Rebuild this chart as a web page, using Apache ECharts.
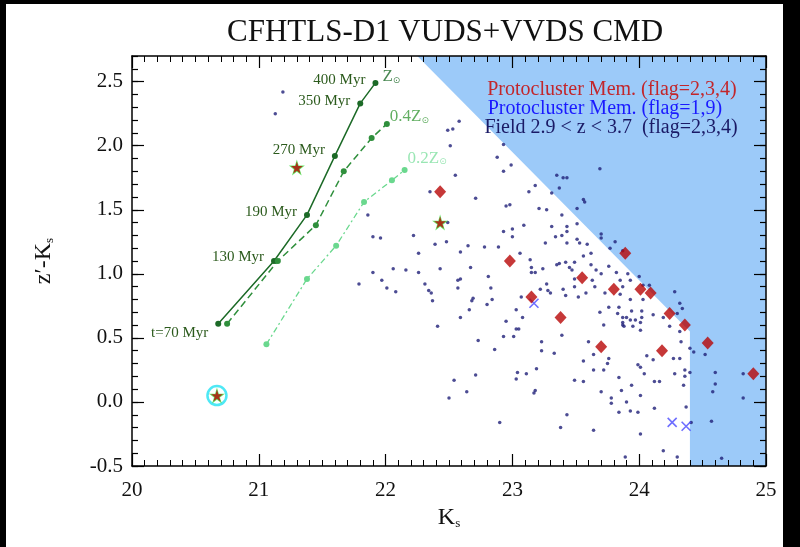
<!DOCTYPE html>
<html>
<head>
<meta charset="utf-8">
<script src="https://cdn.jsdelivr.net/npm/echarts@6/dist/echarts.min.js"></script>
<style>
  html, body { margin: 0; padding: 0; background: #fff; }
  #chart { width: 800px; height: 547px; }
</style>
</head>
<body>
<div id="chart"></div>
<script>
// colour-magnitude data
const fieldPts = [
  [22.58,2.19],[22.49,2.12],[22.53,2.13],[22.51,2.00],[22.93,2.01],[22.88,1.91],[22.99,1.85],[22.93,1.80],
  [22.55,1.77],[23.69,1.82],[23.35,1.77],[23.40,1.75],[23.43,1.75],[23.37,1.67],[23.18,1.69],[23.13,1.64],
  [23.31,1.63],[22.71,1.59],[22.95,1.53],[22.98,1.54],[23.56,1.58],[23.57,1.56],[23.21,1.51],[23.27,1.50],
  [23.51,1.51],[23.39,1.46],[22.49,1.40],[23.51,1.39],[23.43,1.37],[23.09,1.38],[23.00,1.35],[23.31,1.37],
  [21.19,2.42],[21.13,2.25],[21.86,1.46],[22.35,1.64],
  [21.90,1.29],[21.96,1.28],[22.22,1.30],[22.26,1.16],[21.90,1.01],[21.97,0.95],[22.01,0.89],[22.08,0.86],
  [22.06,1.04],[22.16,1.03],[22.26,1.01],[21.79,0.92],
  [22.39,1.23],[22.48,1.25],[22.65,1.22],[22.78,1.21],[22.89,1.21],[23.00,1.29],[22.93,1.33],[23.06,1.16],
  [23.26,1.24],[23.34,1.29],[23.39,1.30],[23.43,1.33],[23.51,1.27],[23.43,1.24],[23.53,1.24],[23.59,1.23],
  [23.62,1.16],[23.70,1.31],[23.70,1.28],[23.77,1.20],[23.81,1.25],[23.87,1.18],[22.59,1.17],[22.67,1.05],
  [22.43,1.04],[22.31,0.92],[22.34,0.87],[22.36,0.85],[22.37,0.79],[22.57,0.95],[22.59,0.96],[22.57,0.89],
  [22.81,0.98],[22.83,0.89],[22.69,0.81],[22.68,0.79],[22.66,0.72],[22.80,0.76],[22.84,0.80],[22.95,0.63],
  [23.03,0.72],[23.03,0.57],[23.05,0.57],[23.08,0.66],[23.07,0.82],[22.93,0.51],[23.01,0.51],[23.14,1.11],
  [23.15,1.05],[23.15,1.01],[23.18,1.01],[23.24,1.04],[23.27,0.92],[23.28,0.87],[23.30,0.85],[23.22,0.88],
  [23.35,1.07],[23.37,1.08],[23.42,1.09],[23.45,1.05],[23.49,1.09],[23.47,1.03],[23.49,0.96],[23.56,1.14],
  [23.62,1.07],[23.66,1.03],[23.70,1.00],[23.65,0.90],[23.58,0.85],[23.52,0.82],[23.42,0.83],[23.40,0.88],
  [23.49,0.90],[23.63,0.95],[23.73,0.85],[23.76,1.06],[23.82,1.01],[23.85,0.95],[23.87,0.90],[23.91,1.00],
  [23.93,0.95],[24.00,0.98],[24.03,0.91],[24.08,0.91],[24.03,0.80],[23.93,0.80],[23.85,0.84],[23.69,0.70],
  [23.72,0.60],[23.76,0.74],[23.84,0.74],[23.83,0.69],[23.87,0.60],[23.88,0.59],[23.87,0.62],[23.87,0.66],
  [23.90,0.66],[23.94,0.71],[23.93,0.64],[24.02,0.71],[23.97,0.64],[23.95,0.59],[24.01,0.56],[24.02,0.66],
  [24.01,0.62],[24.11,0.68],[24.19,0.66],[24.24,0.59],[24.28,0.86],[24.32,0.77],[24.34,0.73],[24.30,0.69],
  [24.32,0.55],[24.33,0.47],[24.27,0.34],[24.32,0.34],[24.36,0.25],[24.40,0.42],[24.43,0.39],[24.40,0.23],
  [24.52,0.37],[24.60,0.23],[24.60,0.14],[24.58,0.08],[24.82,0.22],[24.82,0.03],[24.57,-0.15],[24.41,-0.16],
  [24.36,0.20],[24.35,0.13],[24.37,-0.04],[24.28,0.22],[24.16,0.16],[24.12,0.16],[24.06,0.36],[24.11,0.33],
  [24.04,0.22],[23.99,0.29],[24.01,0.27],[23.94,0.13],[23.86,0.09],[23.84,0.19],[24.01,0.05],[23.93,-0.07],
  [23.90,0.00],[23.84,-0.08],[23.78,0.03],[23.78,-0.01],[23.70,0.08],[23.76,0.34],[23.75,0.30],[23.72,0.25],
  [23.64,0.25],[23.56,0.32],[23.56,0.16],[23.49,0.17],[23.64,0.37],[23.60,0.47],[23.39,0.52],[23.33,0.38],
  [23.23,0.47],[23.23,0.40],[23.19,0.26],[23.18,0.09],[23.17,0.07],[23.11,0.22],[23.04,0.23],[23.03,0.18],
  [22.90,-0.16],[22.86,0.41],[22.73,0.48],[22.71,0.21],[22.64,0.08],[22.54,0.17],[22.50,0.03],[22.41,0.59],
  [22.59,0.66],[23.43,-0.10],[23.38,-0.20],[23.64,-0.22],[24.01,-0.25],[24.19,-0.38],[23.89,-0.43],[24.30,-0.43],
  [24.65,-0.44],[24.12,-0.05],[23.99,-0.08]
];
const memberPts = [
  [22.43,1.64],[23.89,1.16],[22.98,1.10],[23.55,0.97],[23.80,0.88],[23.15,0.82],[24.01,0.88],[24.09,0.85],
  [23.38,0.66],[24.24,0.69],[24.36,0.60],[24.54,0.46],[23.70,0.43],[24.18,0.40],[24.90,0.22]
];
const starPts = [[21.30,1.83],[22.43,1.40],[20.67,0.05]];
const ringPts = [[20.67,0.05]];
const lowFlagPts = [[23.17,0.77],[24.26,-0.16],[24.37,-0.19]];

// Bruzual-Charlot style tracks
const solarK = [20.68, 21.12, 21.38, 21.60, 21.80, 21.92];
const solarC = [0.61, 1.10, 1.46, 1.92, 2.33, 2.49];
const ageLabels = ["t=70 Myr", "130 Myr", "190 Myr", "270 Myr", "350 Myr", "400 Myr"];
const ageLabelDy = [9, -4, -3, -6, -2, -3];
const z04K = [20.75, 21.15, 21.45, 21.67, 21.89, 22.01];
const z04C = [0.61, 1.10, 1.38, 1.80, 2.06, 2.17];
const z02K = [21.06, 21.38, 21.61, 21.83, 22.05, 22.15];
const z02C = [0.45, 0.96, 1.22, 1.56, 1.73, 1.81];
const metalNames = ["", "0.4", "0.2"];

// selection limits: z' cut (z'-Ks = zCut - Ks) and Ks cut
const zCut = 24.95;
const kLimit = 24.4;
const xMin = 20, xMax = 25, yMin = -0.5, yMax = 2.7;

const serif = "Liberation Serif";
const chart = echarts.init(document.getElementById("chart"));

function pairs(ks, cs) {
  return ks.map((k, i) => [k, cs[i]]);
}

const starPath = "path://M50,0 L61,35 L98,35 L68,57 L79,91 L50,70 L21,91 L32,57 L2,35 L39,35 Z";
const crossPath = "path://M0,0 L10,10 M10,0 L0,10";

const majorX = (pos, labels) => ({
  type: "value", min: xMin, max: xMax, interval: 1, position: pos,
  axisLine: { onZero: false, lineStyle: { color: "#000", width: 1.5 } },
  axisTick: { inside: true, length: 12, lineStyle: { color: "#000", width: 1.2 } },
  minorTick: { show: true, splitNumber: 10, length: 6, lineStyle: { color: "#000", width: 1 } },
  splitLine: { show: false },
  axisLabel: { show: labels, margin: 14, fontFamily: serif, fontSize: 21, color: "#111" },
});
const yAx = (pos, interval, len, labels) => ({
  type: "value", min: yMin, max: yMax, interval: interval, position: pos,
  axisLine: { show: interval === 0.5, onZero: false, lineStyle: { color: "#000", width: 1.5 } },
  axisTick: { inside: true, length: len, lineStyle: { color: "#000", width: 1.2 } },
  splitLine: { show: false },
  axisLabel: {
    show: labels, margin: 9, showMaxLabel: false, fontFamily: serif, fontSize: 21, color: "#111",
    formatter: (v) => v.toFixed(1),
  },
});

const xBottom = majorX("bottom", true);
xBottom.name = "{k|K}{s|s}";
xBottom.nameLocation = "middle";
xBottom.nameGap = 40;
xBottom.nameTextStyle = {
  rich: {
    k: { fontFamily: serif, fontSize: 24, color: "#111" },
    s: { fontFamily: serif, fontSize: 13, color: "#111", verticalAlign: "bottom" },
  },
};
const yLeft = yAx("left", 0.5, 12, true);
yLeft.name = "{k|z\u2032-K}{s|s}";
yLeft.nameLocation = "middle";
yLeft.nameGap = 76;
yLeft.nameRotate = 90;
yLeft.nameTextStyle = {
  rich: {
    k: { fontFamily: serif, fontSize: 24, color: "#111" },
    s: { fontFamily: serif, fontSize: 13, color: "#111", verticalAlign: "bottom" },
  },
};

function metalLabel(name, color) {
  return {
    show: true, position: "right",
    formatter: `{z|${name}Z}{o|\u2299}`,
    rich: {
      z: { fontFamily: serif, fontSize: 17, color: color },
      o: { fontFamily: "DejaVu Sans", fontSize: 9, color: color, verticalAlign: "bottom" },
    },
  };
}

const option = {
  animation: false,
  backgroundColor: "#fff",
  title: {
    text: "CFHTLS-D1 VUDS+VVDS CMD",
    left: 440, top: 12, textAlign: "center",
    textStyle: { fontFamily: serif, fontSize: 31, fontWeight: "normal", color: "#111" },
  },
  grid: { left: 132, right: 34, top: 56, bottom: 81 },
  xAxis: [xBottom, majorX("top", false)],
  yAxis: [yLeft, yAx("left", 0.1, 6, false), yAx("right", 0.5, 12, false), yAx("right", 0.1, 6, false)],
  graphic: [
    { type: "rect", shape: { x: 0, y: 0, width: 6, height: 547 }, style: { fill: "#000" } },
    { type: "rect", shape: { x: 0, y: 0, width: 800, height: 4 }, style: { fill: "#000" } },
    { type: "rect", shape: { x: 783, y: 0, width: 17, height: 547 }, style: { fill: "#000" } },
    { type: "text", x: 612, y: 90, style: { text: "Protocluster Mem. (flag=2,3,4)", fill: "#c2262b", font: `20px "${serif}"`, textAlign: "center", textVerticalAlign: "middle" }, z: 10 },
    { type: "text", x: 605, y: 109, style: { text: "Protocluster Mem. (flag=1,9)", fill: "#1a1aff", font: `20px "${serif}"`, textAlign: "center", textVerticalAlign: "middle" }, z: 10 },
    { type: "text", x: 611, y: 128, style: { text: "Field 2.9 < z < 3.7  (flag=2,3,4)", fill: "#1a1a66", font: `20px "${serif}"`, textAlign: "center", textVerticalAlign: "middle" }, z: 10 },
  ],
  series: [
    {
      type: "custom", name: "excluded", data: [[kLimit, 0]], z: 0, silent: true,
      renderItem: (params, api) => {
        const pts = [
          [zCut - yMax, yMax], [xMax, yMax], [xMax, yMin], [kLimit, yMin], [kLimit, zCut - kLimit],
        ].map((p) => api.coord(p));
        return { type: "polygon", shape: { points: pts }, style: { fill: "#9ccaf9" } };
      },
    },
    {
      type: "scatter", name: "field", data: fieldPts, symbol: "circle", symbolSize: 3.5,
      itemStyle: { color: "#1f1f78" },
    },
    {
      type: "line", name: "Zsun", data: pairs(solarK, solarC).map((p, i) => ({
        value: p,
        label: {
          show: true, position: "left", distance: 7, offset: [0, ageLabelDy[i]],
          formatter: ageLabels[i], fontFamily: serif, fontSize: 15, color: "#2b5a1c",
        },
      })),
      symbol: "circle", symbolSize: 6, showAllSymbol: true,
      lineStyle: { color: "#1c6a27", width: 1.5 }, itemStyle: { color: "#1c6a27" },
    },
    {
      type: "line", name: "0.4Zsun", data: pairs(z04K, z04C),
      symbol: "circle", symbolSize: 6,
      lineStyle: { color: "#2f8f3c", width: 1.5, type: [7, 4] }, itemStyle: { color: "#2f8f3c" },
    },
    {
      type: "line", name: "0.2Zsun", data: pairs(z02K, z02C),
      symbol: "circle", symbolSize: 6,
      lineStyle: { color: "#6ad88e", width: 1.3, type: [6, 3, 2, 3] }, itemStyle: { color: "#6ad88e" },
    },
    {
      type: "scatter", name: "metal labels", symbolSize: 0, silent: true,
      data: [
        { value: [solarK[5], solarC[5]], label: { ...metalLabel(metalNames[0], "#1c6a27"), distance: 7, offset: [0, -6] } },
        { value: [z04K[5], z04C[5]], label: { ...metalLabel(metalNames[1], "#3a9a3a"), distance: 3, offset: [0, -7] } },
        { value: [z02K[5], z02C[5]], label: { ...metalLabel(metalNames[2], "#7fe0a0"), distance: 3, offset: [0, -12] } },
      ],
    },
    {
      type: "scatter", name: "flag 1,9", data: lowFlagPts, symbol: crossPath, symbolSize: 9,
      itemStyle: { color: "rgba(0,0,0,0)", borderColor: "#4a4aff", borderWidth: 1.6 },
    },
    {
      type: "scatter", name: "members", data: memberPts, symbol: "diamond", symbolSize: [12, 13],
      itemStyle: { color: "#b80606" },
    },
    {
      type: "scatter", name: "ring", data: ringPts, symbol: "circle", symbolSize: 19,
      itemStyle: { color: "rgba(255,255,255,0)", borderColor: "#22e2f2", borderWidth: 2.5 },
    },
    {
      type: "scatter", name: "star outline", data: starPts, symbol: starPath, symbolSize: 16,
      itemStyle: { color: "#3ee03e" },
    },
    {
      type: "scatter", name: "stars", data: starPts, symbol: starPath, symbolSize: 12,
      itemStyle: { color: "#b80606" },
    },
  ],
};

chart.setOption(option);
</script>
</body>
</html>
